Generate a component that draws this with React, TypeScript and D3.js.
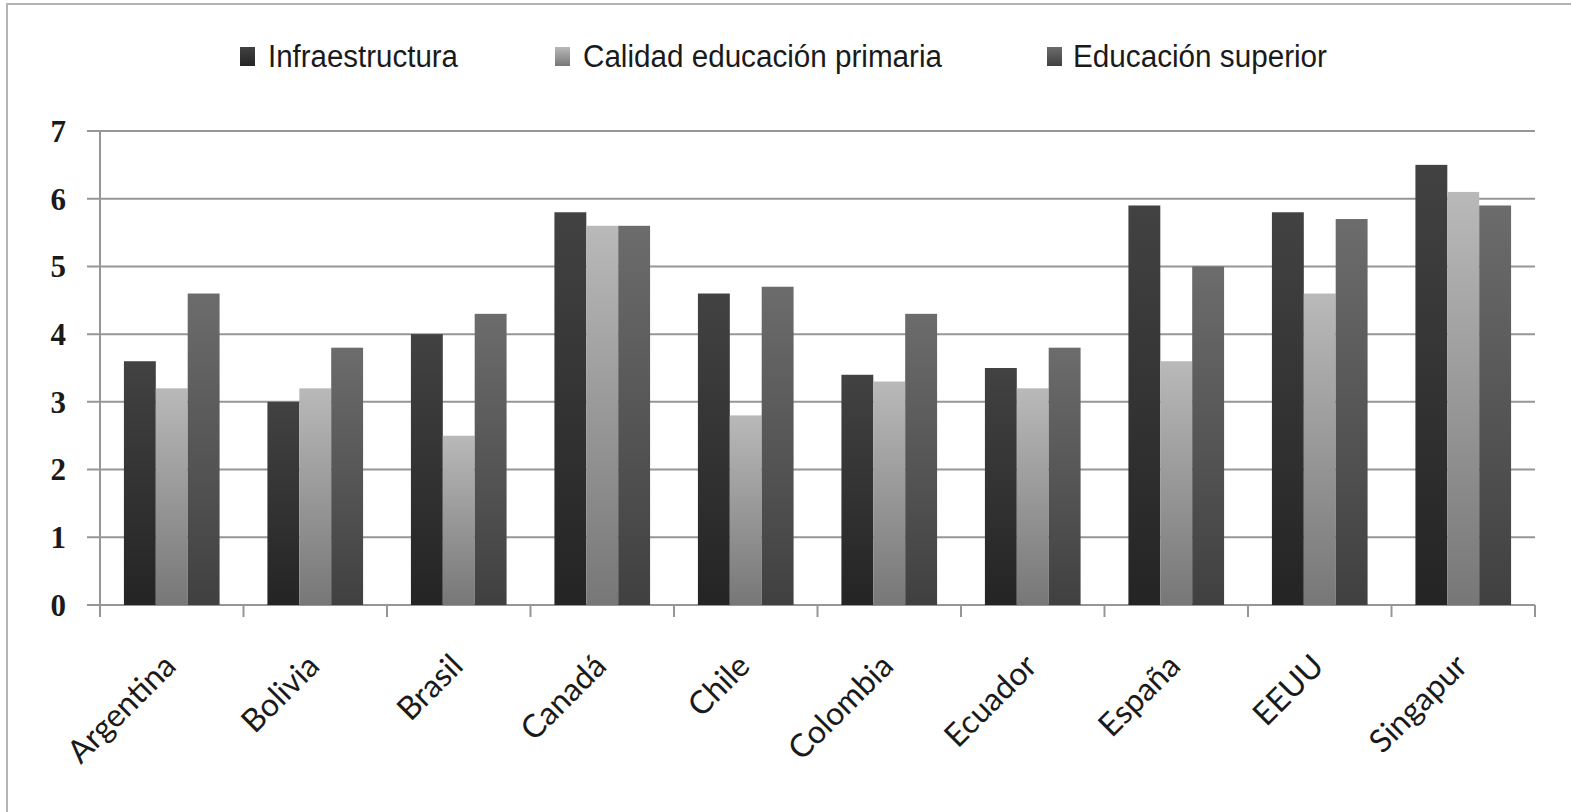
import React from "react";
import * as d3 from "d3";

const countries = ["Argentina", "Bolivia", "Brasil", "Canadá", "Chile", "Colombia", "Ecuador", "España", "EEUU", "Singapur"];
const seriesNames = ["Infraestructura", "Calidad educación primaria", "Educación superior"];
const infraestructura = [3.6, 3.0, 4.0, 5.8, 4.6, 3.4, 3.5, 5.9, 5.8, 6.5];
const calidadPrimaria = [3.2, 3.2, 2.5, 5.6, 2.8, 3.3, 3.2, 3.6, 4.6, 6.1];
const educacionSuperior = [4.6, 3.8, 4.3, 5.6, 4.7, 4.3, 3.8, 5.0, 5.7, 5.9];
const yTicks = [0, 1, 2, 3, 4, 5, 6, 7];

const seriesValues = [infraestructura, calidadPrimaria, educacionSuperior];
const gradients = [
  { id: "g-infra", top: "#424242", bottom: "#242424" },
  { id: "g-prim", top: "#b9b9b9", bottom: "#777777" },
  { id: "g-sup", top: "#6c6c6c", bottom: "#404040" },
];

const W = 1571;
const H = 812;
const left = 100;
const right = 1535;
const top = 131;
const bottom = 605;

export default function App() {
  const x0 = d3.scaleBand<string>().domain(countries).range([left, right]).padding(0);
  const bw = x0.bandwidth();
  const gap = bw / 3;
  const x1 = d3.scaleBand<string>().domain(seriesNames).range([gap / 2, bw - gap / 2]).padding(0);
  const y = d3.scaleLinear().domain([0, 7]).range([bottom, top]);

  // legend swatch / text starts and the text run lengths
  const legendItems = [
    { sq: 240, tx: 268, len: 190 },
    { sq: 555, tx: 583, len: 359 },
    { sq: 1047, tx: 1073, len: 254 },
  ];

  return (
    <svg width={W} height={H} style={{ position: "absolute", left: 0, top: 0, background: "#fff" }}>
      <defs>
        {gradients.map((g) => (
          <linearGradient key={g.id} id={g.id} x1="0" y1="0" x2="0" y2="1">
            <stop offset="0" stopColor={g.top} />
            <stop offset="1" stopColor={g.bottom} />
          </linearGradient>
        ))}
      </defs>
      <rect x={7} y={4} width={W} height={H} fill="#fff" stroke="#b4b4b4" strokeWidth={2} />

      {/* horizontal gridlines with outward ticks */}
      {yTicks.map((t) => (
        <line key={t} x1={87} x2={right} y1={y(t)} y2={y(t)} stroke="#969696" strokeWidth={2} />
      ))}
      {/* value axis */}
      <line x1={left} x2={left} y1={top} y2={bottom + 12} stroke="#969696" strokeWidth={2} />
      {/* category ticks */}
      {d3.range(countries.length + 1).map((i) => (
        <line key={i} x1={left + i * bw} x2={left + i * bw} y1={bottom} y2={bottom + 12} stroke="#969696" strokeWidth={2} />
      ))}

      {/* bars */}
      {countries.map((c, ci) => (
        <g key={c} transform={`translate(${x0(c)},0)`}>
          {seriesNames.map((s, si) => {
            const v = seriesValues[si][ci];
            return (
              <rect
                key={s}
                x={x1(s)}
                y={y(v)}
                width={x1.bandwidth()}
                height={y(0) - y(v)}
                fill={`url(#${gradients[si].id})`}
              />
            );
          })}
        </g>
      ))}

      {/* y tick labels */}
      {yTicks.map((t) => (
        <text
          key={t}
          x={66}
          y={y(t)}
          dy="0.35em"
          textAnchor="end"
          fontFamily="'Liberation Serif', serif"
          fontWeight="bold"
          fontSize={31}
          fill="#1a1a1a"
        >
          {t}
        </text>
      ))}

      {/* category labels */}
      {countries.map((c) => {
        const cx = (x0(c) as number) + bw / 2 + 6;
        const cy = 668;
        return (
          <text
            key={c}
            transform={`translate(${cx},${cy}) rotate(-45)`}
            textAnchor="end"
            fontFamily="Lato, sans-serif"
            fontSize={32}
            fill="#1a1a1a"
          >
            {c}
          </text>
        );
      })}

      {/* legend */}
      {seriesNames.map((s, si) => (
        <g key={s}>
          <rect x={legendItems[si].sq} y={47} width={15} height={19} fill={`url(#${gradients[si].id})`} />
          <text
            x={legendItems[si].tx}
            y={56}
            dy="0.36em"
            textLength={legendItems[si].len}
            lengthAdjust="spacingAndGlyphs"
            fontFamily="'Liberation Sans', Arial, sans-serif"
            fontSize={31}
            fill="#1a1a1a"
          >
            {s}
          </text>
        </g>
      ))}
    </svg>
  );
}
